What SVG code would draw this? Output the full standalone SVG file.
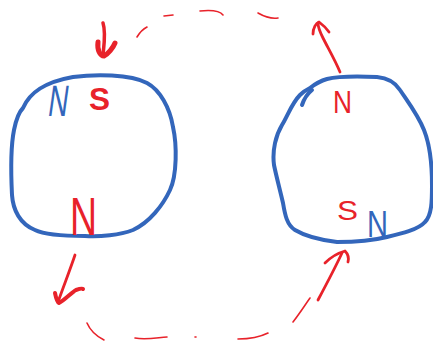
<svg xmlns="http://www.w3.org/2000/svg" width="433" height="347" viewBox="0 0 433 347">
<style>
.blob{fill:none;stroke:#3366bb;stroke-width:4;stroke-linecap:round;stroke-linejoin:round}
.red{fill:none;stroke:#e8222a;stroke-linecap:round;stroke-linejoin:round}
.thin{stroke-width:1.6}
.mid{stroke-width:2.8}
.lbl{font-family:"Liberation Sans",Arial,sans-serif}
.r{fill:#e8222a}
.b{fill:#3366bb}
</style>
<rect width="433" height="347" fill="#fff"/>
<g id="magnet-left">
<path class="blob" d="M23,108 C30,92 45,82 73,77 C95,74 130,74 147,83 C160,90 170,108 173,127 C177,145 177,175 170,190 C163,205 150,222 133,230 C120,235 100,237 85,236 C65,236 45,235 35,230 C20,224 13,210 12,195 C11,175 11,145 14,130 C16,120 19,112 23,108 Z"/>
<text class="lbl b" x="48" y="116" font-size="44" textLength="20" lengthAdjust="spacingAndGlyphs" transform="skewX(-8) translate(15,0)">N</text>
<text class="lbl r" x="89" y="110" font-size="32" font-weight="bold" textLength="21" lengthAdjust="spacingAndGlyphs">S</text>
<text class="lbl r" x="70" y="235" font-size="54" textLength="27" lengthAdjust="spacingAndGlyphs">N</text>
</g>
<g id="magnet-right">
<path class="blob" d="M310,88 C315,84 320,81 327,79 C335,77 355,76 377,77 C388,78 395,82 400,90 C408,102 418,115 424,130 C430,145 432,165 432,185 C432,200 432,215 425,222 C418,230 400,234 387,237 C375,240 360,242 337,242 C320,240 305,236 295,230 C287,225 285,215 283,203 C280,190 276,175 274,165 C272,150 276,135 282,125 C288,115 292,103 300,95 C303,92 306,90 310,88 Z"/>
<path class="blob" stroke-width="3" d="M302,105 C304,99 307,94 312,90"/>
<text class="lbl r" x="333" y="113" font-size="31" textLength="19" lengthAdjust="spacingAndGlyphs">N</text>
<text class="lbl r" x="337" y="220" font-size="28" textLength="21" lengthAdjust="spacingAndGlyphs">S</text>
<text class="lbl b" x="367" y="237" font-size="37" textLength="21" lengthAdjust="spacingAndGlyphs">N</text>
</g>
<g id="connectors">
<path class="red" stroke-width="3.5" d="M103,23 C106,32 104,45 103,55"/>
<path class="red" stroke-width="5" d="M98,42 C97,50 100,56 104,56 C108,54 113,48 115,43"/>
<path class="red thin" d="M137,37 C140,32 143,29 147,27"/>
<path class="red thin" d="M164,16 L173,15"/>
<path class="red thin" d="M200,11 C210,10 220,11 223,15"/>
<path class="red thin" d="M258,13 C265,17 272,19 278,18"/>
<path class="red mid" d="M340,72 C335,60 328,48 323,38 C320,32 318,27 318,23"/>
<path class="red mid" d="M313,34 C313,28 316,23 319,22 C323,25 327,29 329,32"/>
<path class="red mid" d="M75,255 C70,270 64,285 58,302"/>
<path class="red" stroke-width="4" d="M55,293 C56,298 57,302 59,303 C65,300 72,292 76,290 C79,289 82,288 83,289"/>
<path class="red thin" d="M87,323 C90,330 96,336 104,340"/>
<path class="red thin" d="M135,338 C145,340 155,338 167,337"/>
<path class="red thin" d="M195,337 L196,337"/>
<path class="red thin" d="M238,339 C250,339 258,338 268,333"/>
<path class="red thin" d="M293,322 C300,313 305,305 310,298"/>
<path class="red mid" d="M318,300 C326,285 335,268 342,253"/>
<path class="red mid" d="M325,263 C330,258 338,253 345,251 C348,254 349,258 348,262"/>
</g>
</svg>
